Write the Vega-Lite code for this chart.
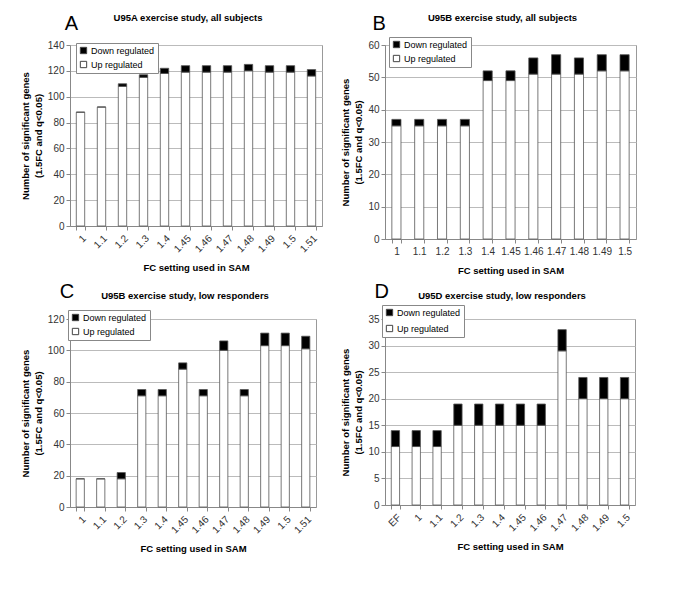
{
  "$schema": "https://vega.github.io/schema/vega-lite/v6.json",
  "background": "white",
  "padding": {"left": 19, "top": 12, "right": 5, "bottom": 5},
  "datasets": {
    "A": [
      {"fc": "1", "type": "Up regulated", "n": 88}, {"fc": "1", "type": "Down regulated", "n": 0},
      {"fc": "1.1", "type": "Up regulated", "n": 92}, {"fc": "1.1", "type": "Down regulated", "n": 0},
      {"fc": "1.2", "type": "Up regulated", "n": 108}, {"fc": "1.2", "type": "Down regulated", "n": 2},
      {"fc": "1.3", "type": "Up regulated", "n": 115}, {"fc": "1.3", "type": "Down regulated", "n": 2},
      {"fc": "1.4", "type": "Up regulated", "n": 118}, {"fc": "1.4", "type": "Down regulated", "n": 4},
      {"fc": "1.45", "type": "Up regulated", "n": 119}, {"fc": "1.45", "type": "Down regulated", "n": 5},
      {"fc": "1.46", "type": "Up regulated", "n": 119}, {"fc": "1.46", "type": "Down regulated", "n": 5},
      {"fc": "1.47", "type": "Up regulated", "n": 119}, {"fc": "1.47", "type": "Down regulated", "n": 5},
      {"fc": "1.48", "type": "Up regulated", "n": 120}, {"fc": "1.48", "type": "Down regulated", "n": 5},
      {"fc": "1.49", "type": "Up regulated", "n": 119}, {"fc": "1.49", "type": "Down regulated", "n": 5},
      {"fc": "1.5", "type": "Up regulated", "n": 119}, {"fc": "1.5", "type": "Down regulated", "n": 5},
      {"fc": "1.51", "type": "Up regulated", "n": 116}, {"fc": "1.51", "type": "Down regulated", "n": 5}
    ],
    "B": [
      {"fc": "1", "type": "Up regulated", "n": 35}, {"fc": "1", "type": "Down regulated", "n": 2},
      {"fc": "1.1", "type": "Up regulated", "n": 35}, {"fc": "1.1", "type": "Down regulated", "n": 2},
      {"fc": "1.2", "type": "Up regulated", "n": 35}, {"fc": "1.2", "type": "Down regulated", "n": 2},
      {"fc": "1.3", "type": "Up regulated", "n": 35}, {"fc": "1.3", "type": "Down regulated", "n": 2},
      {"fc": "1.4", "type": "Up regulated", "n": 49}, {"fc": "1.4", "type": "Down regulated", "n": 3},
      {"fc": "1.45", "type": "Up regulated", "n": 49}, {"fc": "1.45", "type": "Down regulated", "n": 3},
      {"fc": "1.46", "type": "Up regulated", "n": 51}, {"fc": "1.46", "type": "Down regulated", "n": 5},
      {"fc": "1.47", "type": "Up regulated", "n": 51}, {"fc": "1.47", "type": "Down regulated", "n": 6},
      {"fc": "1.48", "type": "Up regulated", "n": 51}, {"fc": "1.48", "type": "Down regulated", "n": 5},
      {"fc": "1.49", "type": "Up regulated", "n": 52}, {"fc": "1.49", "type": "Down regulated", "n": 5},
      {"fc": "1.5", "type": "Up regulated", "n": 52}, {"fc": "1.5", "type": "Down regulated", "n": 5}
    ],
    "C": [
      {"fc": "1", "type": "Up regulated", "n": 18}, {"fc": "1", "type": "Down regulated", "n": 0},
      {"fc": "1.1", "type": "Up regulated", "n": 18}, {"fc": "1.1", "type": "Down regulated", "n": 0},
      {"fc": "1.2", "type": "Up regulated", "n": 18}, {"fc": "1.2", "type": "Down regulated", "n": 4},
      {"fc": "1.3", "type": "Up regulated", "n": 71}, {"fc": "1.3", "type": "Down regulated", "n": 4},
      {"fc": "1.4", "type": "Up regulated", "n": 71}, {"fc": "1.4", "type": "Down regulated", "n": 4},
      {"fc": "1.45", "type": "Up regulated", "n": 88}, {"fc": "1.45", "type": "Down regulated", "n": 4},
      {"fc": "1.46", "type": "Up regulated", "n": 71}, {"fc": "1.46", "type": "Down regulated", "n": 4},
      {"fc": "1.47", "type": "Up regulated", "n": 100}, {"fc": "1.47", "type": "Down regulated", "n": 6},
      {"fc": "1.48", "type": "Up regulated", "n": 71}, {"fc": "1.48", "type": "Down regulated", "n": 4},
      {"fc": "1.49", "type": "Up regulated", "n": 103}, {"fc": "1.49", "type": "Down regulated", "n": 8},
      {"fc": "1.5", "type": "Up regulated", "n": 103}, {"fc": "1.5", "type": "Down regulated", "n": 8},
      {"fc": "1.51", "type": "Up regulated", "n": 101}, {"fc": "1.51", "type": "Down regulated", "n": 8}
    ],
    "D": [
      {"fc": "EF", "type": "Up regulated", "n": 11}, {"fc": "EF", "type": "Down regulated", "n": 3},
      {"fc": "1", "type": "Up regulated", "n": 11}, {"fc": "1", "type": "Down regulated", "n": 3},
      {"fc": "1.1", "type": "Up regulated", "n": 11}, {"fc": "1.1", "type": "Down regulated", "n": 3},
      {"fc": "1.2", "type": "Up regulated", "n": 15}, {"fc": "1.2", "type": "Down regulated", "n": 4},
      {"fc": "1.3", "type": "Up regulated", "n": 15}, {"fc": "1.3", "type": "Down regulated", "n": 4},
      {"fc": "1.4", "type": "Up regulated", "n": 15}, {"fc": "1.4", "type": "Down regulated", "n": 4},
      {"fc": "1.45", "type": "Up regulated", "n": 15}, {"fc": "1.45", "type": "Down regulated", "n": 4},
      {"fc": "1.46", "type": "Up regulated", "n": 15}, {"fc": "1.46", "type": "Down regulated", "n": 4},
      {"fc": "1.47", "type": "Up regulated", "n": 29}, {"fc": "1.47", "type": "Down regulated", "n": 4},
      {"fc": "1.48", "type": "Up regulated", "n": 20}, {"fc": "1.48", "type": "Down regulated", "n": 4},
      {"fc": "1.49", "type": "Up regulated", "n": 20}, {"fc": "1.49", "type": "Down regulated", "n": 4},
      {"fc": "1.5", "type": "Up regulated", "n": 20}, {"fc": "1.5", "type": "Down regulated", "n": 4}
    ]
  },
  "columns": 2,
  "spacing": {"row": 7, "column": 17},
  "concat": [
    {
      "title": {"text": "A", "anchor": "start", "fontSize": 20, "fontWeight": "normal", "offset": -22, "dx": 45},
      "vconcat": [{
        "width": 252, "height": 181,
        "title": {"text": "U95A exercise study, all subjects", "dx": -8},
        "data": {"name": "A"},
        "mark": {"type": "bar", "stroke": "#555", "strokeWidth": 0.8},
        "encoding": {
          "x": {"field": "fc", "type": "ordinal", "sort": null, "title": "FC setting used in SAM", "scale": {"paddingInner": 0.6, "paddingOuter": 0.3}, "axis": {"labelAngle": -45}},
          "y": {"field": "n", "type": "quantitative", "title": ["Number of significant genes", "(1.5FC and q<0.05)"], "scale": {"domain": [0, 140]}, "axis": {"values": [0, 20, 40, 60, 80, 100, 120, 140]}},
          "color": {"field": "type", "type": "nominal", "scale": {"domain": ["Down regulated", "Up regulated"], "range": ["black", "white"]}, "legend": {"title": null, "orient": "none", "legendX": 6, "legendY": -2}},
          "order": {"field": "type", "sort": "descending"}
        }
      }]
    },
    {
      "title": {"text": "B", "anchor": "start", "fontSize": 20, "fontWeight": "normal", "offset": -22, "dx": 32},
      "vconcat": [{
        "width": 251, "height": 194,
        "title": {"text": "U95B exercise study, all subjects", "dx": -8},
        "data": {"name": "B"},
        "mark": {"type": "bar", "stroke": "#555", "strokeWidth": 0.8},
        "encoding": {
          "x": {"field": "fc", "type": "ordinal", "sort": null, "title": "FC setting used in SAM", "scale": {"paddingInner": 0.6, "paddingOuter": 0.3}, "axis": {"labelAngle": 0}},
          "y": {"field": "n", "type": "quantitative", "title": ["Number of significant genes", "(1.5FC and q<0.05)"], "scale": {"domain": [0, 60]}, "axis": {"values": [0, 10, 20, 30, 40, 50, 60]}},
          "color": {"field": "type", "type": "nominal", "scale": {"domain": ["Down regulated", "Up regulated"], "range": ["black", "white"]}, "legend": {"title": null, "orient": "none", "legendX": 4, "legendY": -8}},
          "order": {"field": "type", "sort": "descending"}
        }
      }]
    },
    {
      "title": {"text": "C", "anchor": "start", "fontSize": 20, "fontWeight": "normal", "offset": -12, "dx": 40},
      "vconcat": [{
        "width": 246, "height": 188,
        "title": {"text": "U95B exercise study, low responders", "dx": -8, "offset": 14},
        "data": {"name": "C"},
        "mark": {"type": "bar", "stroke": "#555", "strokeWidth": 0.8},
        "encoding": {
          "x": {"field": "fc", "type": "ordinal", "sort": null, "title": "FC setting used in SAM", "scale": {"paddingInner": 0.6, "paddingOuter": 0.3}, "axis": {"labelAngle": -45}},
          "y": {"field": "n", "type": "quantitative", "title": ["Number of significant genes", "(1.5FC and q<0.05)"], "scale": {"domain": [0, 120]}, "axis": {"values": [0, 20, 40, 60, 80, 100, 120]}},
          "color": {"field": "type", "type": "nominal", "scale": {"domain": ["Down regulated", "Up regulated"], "range": ["black", "white"]}, "legend": {"title": null, "orient": "none", "legendX": -2, "legendY": -9}},
          "order": {"field": "type", "sort": "descending"}
        }
      }]
    },
    {
      "title": {"text": "D", "anchor": "start", "fontSize": 20, "fontWeight": "normal", "offset": -12, "dx": 34},
      "vconcat": [{
        "width": 250, "height": 186,
        "title": {"text": "U95D exercise study, low responders", "dx": -8, "offset": 14},
        "data": {"name": "D"},
        "mark": {"type": "bar", "stroke": "#555", "strokeWidth": 0.8},
        "encoding": {
          "x": {"field": "fc", "type": "ordinal", "sort": null, "title": "FC setting used in SAM", "scale": {"paddingInner": 0.6, "paddingOuter": 0.3}, "axis": {"labelAngle": -45}},
          "y": {"field": "n", "type": "quantitative", "title": ["Number of significant genes", "(1.5FC and q<0.05)"], "scale": {"domain": [0, 35]}, "axis": {"values": [0, 5, 10, 15, 20, 25, 30, 35]}},
          "color": {"field": "type", "type": "nominal", "scale": {"domain": ["Down regulated", "Up regulated"], "range": ["black", "white"]}, "legend": {"title": null, "orient": "none", "legendX": -3, "legendY": -14, "rowPadding": 5}},
          "order": {"field": "type", "sort": "descending"}
        }
      }]
    }
  ],
  "resolve": {"scale": {"color": "independent"}, "legend": {"color": "independent"}},
  "config": {
    "font": "Liberation Sans",
    "title": {"font": "Liberation Sans", "fontSize": 9.5, "fontWeight": "bold", "color": "black", "offset": 18},
    "view": {"stroke": "#999", "strokeWidth": 1},
    "axis": {"labelFont": "Liberation Sans", "titleFont": "Liberation Sans", "labelFontSize": 10, "titleFontSize": 9.5, "titleFontWeight": "bold", "labelColor": "#333", "titleColor": "black", "domainColor": "#888", "tickColor": "#888", "gridColor": "#bbb", "tickSize": 4},
    "axisX": {"grid": false, "tickBand": "extent", "titlePadding": 9, "labelPadding": 3},
    "axisY": {"grid": true, "titleLineHeight": 13, "titlePadding": 4},
    "legend": {"strokeColor": "#888", "fillColor": "white", "padding": 3, "labelFont": "Liberation Sans", "labelFontSize": 9, "labelColor": "black", "symbolType": "square", "symbolSize": 40, "symbolStrokeColor": "#444", "symbolStrokeWidth": 1, "rowPadding": 3, "labelOffset": 3}
  }
}
